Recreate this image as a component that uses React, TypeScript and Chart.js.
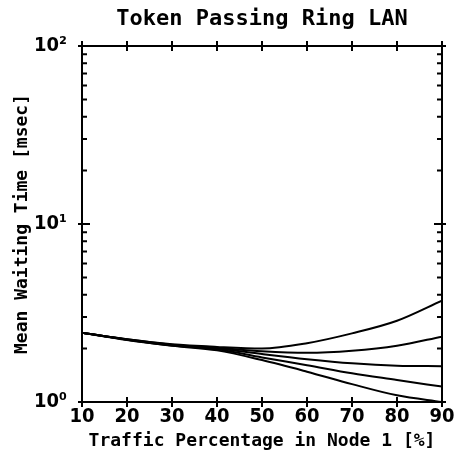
import React, { useEffect, useRef } from "react";
import { Chart, registerables } from "chart.js";

Chart.register(...registerables);

const xValues = [10, 20, 30, 40, 50, 60, 70, 80, 90];
const series1 = [2.45, 2.25, 2.11, 2.04, 2.0, 2.14, 2.43, 2.86, 3.71];
const series2 = [2.45, 2.25, 2.1, 2.02, 1.93, 1.89, 1.94, 2.07, 2.33];
const series3 = [2.45, 2.24, 2.09, 2.0, 1.86, 1.74, 1.65, 1.6, 1.59];
const series4 = [2.45, 2.24, 2.08, 1.98, 1.78, 1.61, 1.45, 1.33, 1.22];
const series5 = [2.45, 2.23, 2.07, 1.95, 1.72, 1.48, 1.26, 1.09, 1.0];
const allSeries = [series1, series2, series3, series4, series5];

const yMajorTicks = [1, 10, 100];
const yTickLabels = ["10\u2070", "10\u00b9", "10\u00b2"];
const xTickLabels = ["10", "20", "30", "40", "50", "60", "70", "80", "90"];

const TITLE = "Token Passing Ring LAN";
const X_TITLE = "Traffic Percentage in Node 1 [%]";
const Y_TITLE = "Mean Waiting Time [msec]";

const MONO = "'DejaVu Sans Mono', 'Liberation Mono', monospace";
const NARROW = "'DejaVu Sans Condensed', 'DejaVu Sans', sans-serif";

const frameTicks = {
  id: "frameTicks",
  afterDraw(chart: any) {
    const { ctx, chartArea } = chart;
    const xs = chart.scales.x;
    const ys = chart.scales.y;
    const { left, right, top, bottom } = chartArea;
    ctx.save();
    ctx.strokeStyle = "#000";
    ctx.lineWidth = 2;
    ctx.strokeRect(left, top, right - left, bottom - top);
    ctx.beginPath();
    xValues.forEach((v) => {
      const px = xs.getPixelForValue(v);
      ctx.moveTo(px, bottom - 5);
      ctx.lineTo(px, bottom + 5);
      ctx.moveTo(px, top - 5);
      ctx.lineTo(px, top + 5);
    });
    for (let k = 0; k < 2; k++) {
      for (let m = 1; m <= 10; m++) {
        const v = m * Math.pow(10, k);
        const py = ys.getPixelForValue(v);
        const major = m === 1 || m === 10;
        ctx.moveTo(major ? left - 4 : left, py);
        ctx.lineTo(left + (major ? 8 : 5), py);
        ctx.moveTo(major ? right + 4 : right, py);
        ctx.lineTo(right - (major ? 8 : 5), py);
      }
    }
    ctx.stroke();
    ctx.restore();
  },
};

export default function App() {
  const ref = useRef<HTMLCanvasElement | null>(null);
  useEffect(() => {
    if (!ref.current) return;
    const chart = new Chart(ref.current, {
      type: "line",
      data: {
        datasets: allSeries.map((s, i) => ({
          label: "s" + (i + 1),
          data: xValues.map((x, j) => ({ x, y: s[j] })),
          borderColor: "#000",
          borderWidth: 2,
          pointRadius: 0,
          fill: false,
          cubicInterpolationMode: "monotone" as const,
        })),
      },
      options: {
        animation: false,
        responsive: false,
        layout: { padding: { left: 0, right: 21, top: 0, bottom: 0 } },
        plugins: {
          legend: { display: false },
          tooltip: { enabled: false },
          title: {
            display: true,
            text: TITLE,
            fullSize: false,
            color: "#000",
            font: { family: MONO, size: 22, weight: "bold", lineHeight: 1.2 },
            padding: { top: 6, bottom: 13.6 },
          },
        },
        scales: {
          x: {
            type: "linear",
            min: 10,
            max: 90,
            grid: { display: false, drawTicks: false },
            border: { display: false },
            afterBuildTicks: (scale: any) => {
              scale.ticks = xValues.map((v) => ({ value: v }));
            },
            afterFit: (scale: any) => {
              scale.height = 58;
            },
            ticks: {
              color: "#000",
              padding: 3,
              maxRotation: 0,
              autoSkip: false,
              font: { family: NARROW, size: 20, weight: "bold condensed", lineHeight: 1.2 },
              callback: (v: any) => {
                const i = xValues.indexOf(Number(v));
                return i >= 0 ? xTickLabels[i] : "";
              },
            },
            title: {
              display: true,
              text: X_TITLE,
              color: "#000",
              font: { family: MONO, size: 18, weight: "bold", lineHeight: 1.2 },
              padding: { top: 0, bottom: 8 },
            },
          },
          y: {
            type: "logarithmic",
            min: 1,
            max: 100,
            grid: { display: false, drawTicks: false },
            border: { display: false },
            afterBuildTicks: (scale: any) => {
              scale.ticks = yMajorTicks.map((v) => ({ value: v, major: true }));
            },
            afterFit: (scale: any) => {
              scale.width = 82;
            },
            ticks: {
              color: "#000",
              padding: 15,
              autoSkip: false,
              font: { family: NARROW, size: 20, weight: "bold condensed", lineHeight: 1.2 },
              callback: (v: any) => {
                const i = yMajorTicks.indexOf(Number(v));
                return i >= 0 ? yTickLabels[i] : "";
              },
            },
            title: {
              display: true,
              text: Y_TITLE,
              color: "#000",
              font: { family: MONO, size: 18, weight: "bold", lineHeight: 1.2 },
              padding: { top: 12, bottom: 0 },
            },
          },
        },
      },
      plugins: [frameTicks],
    } as any);
    return () => chart.destroy();
  }, []);
  return (
    <div style={{ position: "absolute", left: 0, top: 0, width: 463, height: 460, background: "#fff" }}>
      <canvas ref={ref} width={463} height={460} style={{ display: "block" }} />
    </div>
  );
}
